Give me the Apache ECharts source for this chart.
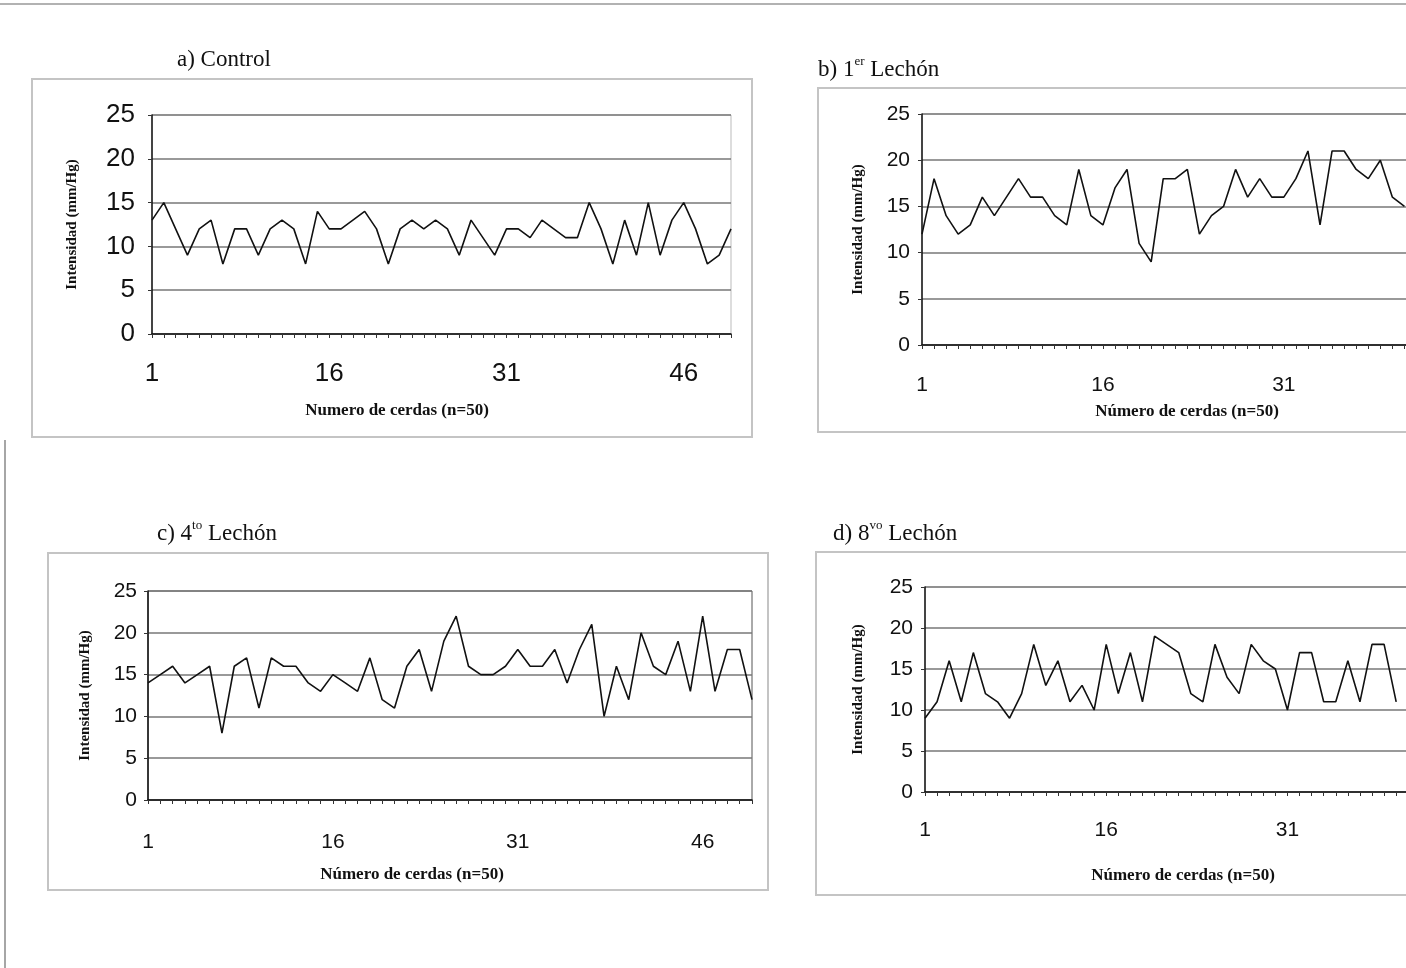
<!DOCTYPE html>
<html>
<head>
<meta charset="utf-8">
<script src="https://cdn.jsdelivr.net/npm/echarts@6/dist/echarts.min.js"></script>
<style>
html,body{margin:0;padding:0;background:#fff;}
#chart{width:1406px;height:968px;}
</style>
</head>
<body>
<div id="chart"></div>
<script>
// ---- data ----
const cerdas = ['1','2','3','4','5','6','7','8','9','10','11','12','13','14','15','16','17','18','19','20',
  '21','22','23','24','25','26','27','28','29','30','31','32','33','34','35','36','37','38','39','40',
  '41','42','43','44','45','46','47','48','49','50'];
const yTicks = [0, 5, 10, 15, 20, 25];

const controlValues = [13,15,12,9,12,13,8,12,12,9, 12,13,12,8,14,12,12,13,14,12,
  8,12,13,12,13,12,9,13,11,9, 12,12,11,13,12,11,11,15,12,8, 13,9,15,9,13,15,12,8,9,12];
// only the points visible in the (cropped) reference
const lechon1Values = [12,18,14,12,13,16,14,16,18,16, 16,14,13,19,14,13,17,19,11,9,
  18,18,19,12,14,15,19,16,18,16, 16,18,21,13,21,21,19,18,20,16, 15];
const lechon4Values = [14,15,16,14,15,16,8,16,17,11, 17,16,16,14,13,15,14,13,17,12,
  11,16,18,13,19,22,16,15,15,16, 18,16,16,18,14,18,21,10,16,12, 20,16,15,19,13,22,13,18,18,12];
const lechon8Values = [9,11,16,11,17,12,11,9,12,18, 13,16,11,13,10,18,12,17,11,19,
  18,17,12,11,18,14,12,18,16,15, 10,17,17,11,11,16,11,18,18,11];

const panelTitles = [
  ['a) Control', '', ''],
  ['b) 1', 'er', ' Lechón'],
  ['c) 4', 'to', ' Lechón'],
  ['d) 8', 'vo', ' Lechón']
];
const xNames = ['Numero de cerdas (n=50)', 'Número de cerdas (n=50)', 'Número de cerdas (n=50)', 'Número de cerdas (n=50)'];
const yName = 'Intensidad (mm/Hg)';

// ---- layout ----
const grids = [
  {left:152, top:115, width:579, height:219},
  {left:922, top:114, width:591, height:231},
  {left:148, top:591, width:604, height:209},
  {left:925, top:587, width:592, height:205}
];
const yNameGap = [72, 56, 55, 59];
const labelFonts = ['Liberation Sans', 'Liberation Sans', 'Liberation Sans Narrow, Liberation Sans', 'Liberation Sans Narrow, Liberation Sans'];
const labelSizes = [26, 21, 21, 21];
const labelMargin = [17, 12, 11, 12];
const xLabelMargin = [27, 30, 32, 28];
const seriesData = [controlValues, lechon1Values, lechon4Values, lechon8Values];

const titlePos = [[177, 58], [818, 68], [157, 532], [833, 532]];
const xNamePos = [[397, 411], [1187, 412], [412, 875], [1183, 876]];
const frames = [[32, 79, 720, 358], [818, 88, 620, 344], [48, 553, 720, 337], [816, 552, 620, 343]];

const option = {
  animation: false,
  backgroundColor: '#ffffff',
  grid: grids.map((g, i) => Object.assign({}, g, {
    show:true, borderColor: i === 2 ? '#555' : '#bbb', borderWidth:1, backgroundColor:'transparent',
    containLabel:false, outerBoundsMode:'none'
  })),
  xAxis: grids.map((g, i) => ({
    type:'category', gridIndex:i, data:cerdas, boundaryGap:false,
    axisLine:{show:true, onZero:false, lineStyle:{color:'#111', width:1.5}},
    axisTick:{show:true, interval:0, length:4, lineStyle:{color:'#333', width:1}},
    axisLabel:{interval:14, margin:xLabelMargin[i], color:'#111', fontSize:labelSizes[i], fontFamily:labelFonts[i]},
    splitLine:{show:false}
  })),
  yAxis: grids.map((g, i) => ({
    type:'value', gridIndex:i, min:yTicks[0], max:yTicks[yTicks.length-1], interval:5,
    name:yName, nameLocation:'middle', nameGap:yNameGap[i], nameRotate:90,
    nameTextStyle:{fontFamily:'Liberation Serif', fontWeight:'bold', fontSize:15, color:'#111'},
    axisLine:{show:true, lineStyle:{color:'#111', width:1.5}},
    axisTick:{show:true, length:4, lineStyle:{color:'#333'}},
    axisLabel:{margin:labelMargin[i], color:'#111', fontSize:labelSizes[i], fontFamily:labelFonts[i]},
    splitLine:{show:true, lineStyle:{color:'#777', width:1.5}}
  })),
  series: seriesData.map((d, i) => ({
    type:'line', xAxisIndex:i, yAxisIndex:i, data:d, showSymbol:false, symbol:'none',
    lineStyle:{color:'#111', width:1.6}, z:5
  })),
  graphic: [
    {type:'line', shape:{x1:0, y1:4, x2:1406, y2:4}, style:{stroke:'#999', lineWidth:1.5}, silent:true},
    {type:'line', shape:{x1:5, y1:440, x2:5, y2:968}, style:{stroke:'#888', lineWidth:1.5}, silent:true}
  ].concat(frames.map(f => ({
    type:'rect', shape:{x:f[0], y:f[1], width:f[2], height:f[3]},
    style:{fill:'none', stroke:'#c4c4c4', lineWidth:2}, silent:true, z:-1
  }))).concat(panelTitles.map((t, i) => ({
    type:'text', x:titlePos[i][0], y:titlePos[i][1],
    style:{
      text: t[1] ? '{a|' + t[0] + '}{s|' + t[1] + '}{a|' + t[2] + '}' : '{a|' + t[0] + '}',
      rich:{
        a:{fontFamily:'Liberation Serif', fontSize:23, fill:'#111', lineHeight:26, verticalAlign:'bottom'},
        s:{fontFamily:'Liberation Serif', fontSize:13, fill:'#111', lineHeight:26, verticalAlign:'top'}
      },
      verticalAlign:'middle', align:'left'
    }
  }))).concat(xNames.map((n, i) => ({
    type:'text', x:xNamePos[i][0], y:xNamePos[i][1],
    style:{text:n, fontFamily:'Liberation Serif', fontWeight:'bold', fontSize:17, fill:'#111', align:'center', verticalAlign:'middle'}
  })))
};

const chart = echarts.init(document.getElementById('chart'), null, {renderer:'canvas'});
chart.setOption(option);
</script>
</body>
</html>
